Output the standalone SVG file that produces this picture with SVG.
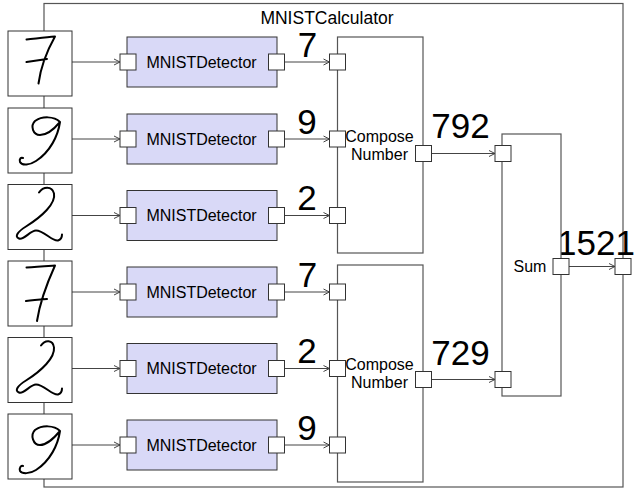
<svg xmlns="http://www.w3.org/2000/svg" width="636" height="488" viewBox="0 0 636 488">
<style>
.frame{fill:none;stroke:#555;stroke-width:1.2}
.img{fill:#fff;stroke:#333;stroke-width:1}
.det{fill:#d9d9f7;stroke:#333;stroke-width:1}
.blk{fill:#fff;stroke:#555;stroke-width:1.2}
.port{fill:#fff;stroke:#333;stroke-width:1}
.ink{fill:none;stroke:#000;stroke-width:2;stroke-linecap:round;stroke-linejoin:round}
.edge{fill:none;stroke:#444;stroke-width:1;marker-end:url(#arr)}
.lbl{font-family:"Liberation Sans",Arial,sans-serif;font-size:16px;fill:#000;text-anchor:middle}
.num{font-family:"Liberation Sans",Arial,sans-serif;font-size:35px;fill:#000;text-anchor:middle}
</style>
<defs>
<marker id="arr" markerUnits="userSpaceOnUse" markerWidth="8" markerHeight="8" refX="7" refY="4" orient="auto">
<path d="M1,1 L7,4 L1,7" fill="none" stroke="#444" stroke-width="1"/>
</marker>
</defs>
<g id="calculator">
<rect class="frame" x="44" y="3.5" width="579" height="483.5"/>
<text class="lbl" x="327" y="24" style="font-size:17.5px">MNISTCalculator</text>
</g>
<g id="connectors">
<path class="edge" d="M72,62 H120"/>
<path class="edge" d="M72,139 H120"/>
<path class="edge" d="M72,215.5 H120"/>
<path class="edge" d="M72,292 H120"/>
<path class="edge" d="M72,368.5 H120"/>
<path class="edge" d="M72,445 H120"/>
<path class="edge" d="M284.5,62 H329.5"/>
<path class="edge" d="M284.5,139 H329.5"/>
<path class="edge" d="M284.5,215.5 H329.5"/>
<path class="edge" d="M284.5,292 H329.5"/>
<path class="edge" d="M284.5,368.5 H329.5"/>
<path class="edge" d="M284.5,445 H329.5"/>
<path class="edge" d="M431.5,153.5 H495"/>
<path class="edge" d="M431.5,379.5 H495"/>
<path class="edge" d="M569,266.5 H615"/>
<text class="num" x="307.5" y="57">7</text>
<text class="num" x="307" y="134">9</text>
<text class="num" x="307" y="210">2</text>
<text class="num" x="307.5" y="287">7</text>
<text class="num" x="307" y="363">2</text>
<text class="num" x="307" y="440">9</text>
<text class="num" x="460.5" y="138">792</text>
<text class="num" x="460.5" y="365">729</text>
<text class="num" x="596" y="255">1521</text>
</g>
<g id="img1" transform="translate(8,31)">
<rect class="img" x="0" y="0" width="64" height="65"/>
<path class="ink" d="M18.5,8.5 C28,7.5 38,6.3 47,5.5 C40,18 33,34 30.5,52.5 M18.5,31 C25,30 32,29 39,28"/>
</g>
<g id="img2" transform="translate(8,108)">
<rect class="img" x="0" y="0" width="64" height="65"/>
<path class="ink" d="M52,14 C46,8 34,8 27,13 C22,18 25,27 32,27 C39,27 47,20 52,14 C50,28 42,44 28,53 C22,57 14,58 12,54 C11,51 13,49 15,50"/>
</g>
<g id="img3" transform="translate(8,184.5)">
<rect class="img" x="0" y="0" width="64" height="65"/>
<path class="ink" d="M31,8 C35,2 44,1 46,9 C48,19 34,32 18,42 C10,47 6,52 11,54 C16,56 22,46 28,46 C36,46 44,57 50,56 C53,55 54,52 54,50"/>
</g>
<g id="img4" transform="translate(8,261)">
<rect class="img" x="0" y="0" width="64" height="65"/>
<path class="ink" d="M18.5,6.5 C28,5.5 38,5 47,4.5 C40,20 32,40 29,60 M18,40 C25,39 32,38.5 39,38"/>
</g>
<g id="img5" transform="translate(8,337.5)">
<rect class="img" x="0" y="0" width="64" height="65"/>
<path class="ink" d="M33,8 C37,2 45,2 46,10 C47,20 34,33 18,43 C10,48 6,53 11,55 C16,57 22,47 28,47 C36,47 44,58 50,57 C53,56 54,53 54,51"/>
</g>
<g id="img6" transform="translate(8,414)">
<rect class="img" x="0" y="0" width="64" height="65"/>
<path class="ink" d="M52,17 C46,11 34,11 27,16 C22,21 25,31 32,31 C39,31 47,23 52,17 C50,31 42,47 28,56 C22,60 14,60 12,57 C11,54 13,51 15,52"/>
</g>
<g id="det1"><rect class="det" x="127" y="37" width="150" height="50"/><rect class="port" x="120" y="54" width="16" height="16"/><rect class="port" x="268.5" y="54" width="16" height="16"/><text class="lbl" x="201.5" y="67.5">MNISTDetector</text></g>
<g id="det2"><rect class="det" x="127" y="114" width="150" height="50"/><rect class="port" x="120" y="131" width="16" height="16"/><rect class="port" x="268.5" y="131" width="16" height="16"/><text class="lbl" x="201.5" y="144.5">MNISTDetector</text></g>
<g id="det3"><rect class="det" x="127" y="190.5" width="150" height="50"/><rect class="port" x="120" y="207.5" width="16" height="16"/><rect class="port" x="268.5" y="207.5" width="16" height="16"/><text class="lbl" x="201.5" y="221">MNISTDetector</text></g>
<g id="det4"><rect class="det" x="127" y="267" width="150" height="50"/><rect class="port" x="120" y="284" width="16" height="16"/><rect class="port" x="268.5" y="284" width="16" height="16"/><text class="lbl" x="201.5" y="297.5">MNISTDetector</text></g>
<g id="det5"><rect class="det" x="127" y="343.5" width="150" height="50"/><rect class="port" x="120" y="360.5" width="16" height="16"/><rect class="port" x="268.5" y="360.5" width="16" height="16"/><text class="lbl" x="201.5" y="374">MNISTDetector</text></g>
<g id="det6"><rect class="det" x="127" y="420" width="150" height="50"/><rect class="port" x="120" y="437" width="16" height="16"/><rect class="port" x="268.5" y="437" width="16" height="16"/><text class="lbl" x="201.5" y="450.5">MNISTDetector</text></g>
<g id="compose1">
<rect class="blk" x="337.5" y="37" width="85.5" height="216"/>
<rect class="port" x="329.5" y="54" width="16" height="16"/>
<rect class="port" x="329.5" y="131" width="16" height="16"/>
<rect class="port" x="329.5" y="207.5" width="16" height="16"/>
<rect class="port" x="415.5" y="145.5" width="16" height="16"/>
<text class="lbl" x="379.5" y="142">Compose</text>
<text class="lbl" x="379.5" y="160">Number</text>
</g>
<g id="compose2">
<rect class="blk" x="337.5" y="265" width="85.5" height="217"/>
<rect class="port" x="329.5" y="284" width="16" height="16"/>
<rect class="port" x="329.5" y="360.5" width="16" height="16"/>
<rect class="port" x="329.5" y="437" width="16" height="16"/>
<rect class="port" x="415.5" y="371.5" width="16" height="16"/>
<text class="lbl" x="379.5" y="370">Compose</text>
<text class="lbl" x="379.5" y="388">Number</text>
</g>
<g id="sum">
<rect class="blk" x="502" y="134" width="59" height="262"/>
<rect class="port" x="495" y="145.5" width="16" height="16"/>
<rect class="port" x="495" y="371.5" width="16" height="16"/>
<rect class="port" x="553" y="258.5" width="16" height="16"/>
<text class="lbl" x="530" y="271.5">Sum</text>
</g>
<g id="output"><rect class="port" x="615" y="258.5" width="16" height="16"/></g>
</svg>
